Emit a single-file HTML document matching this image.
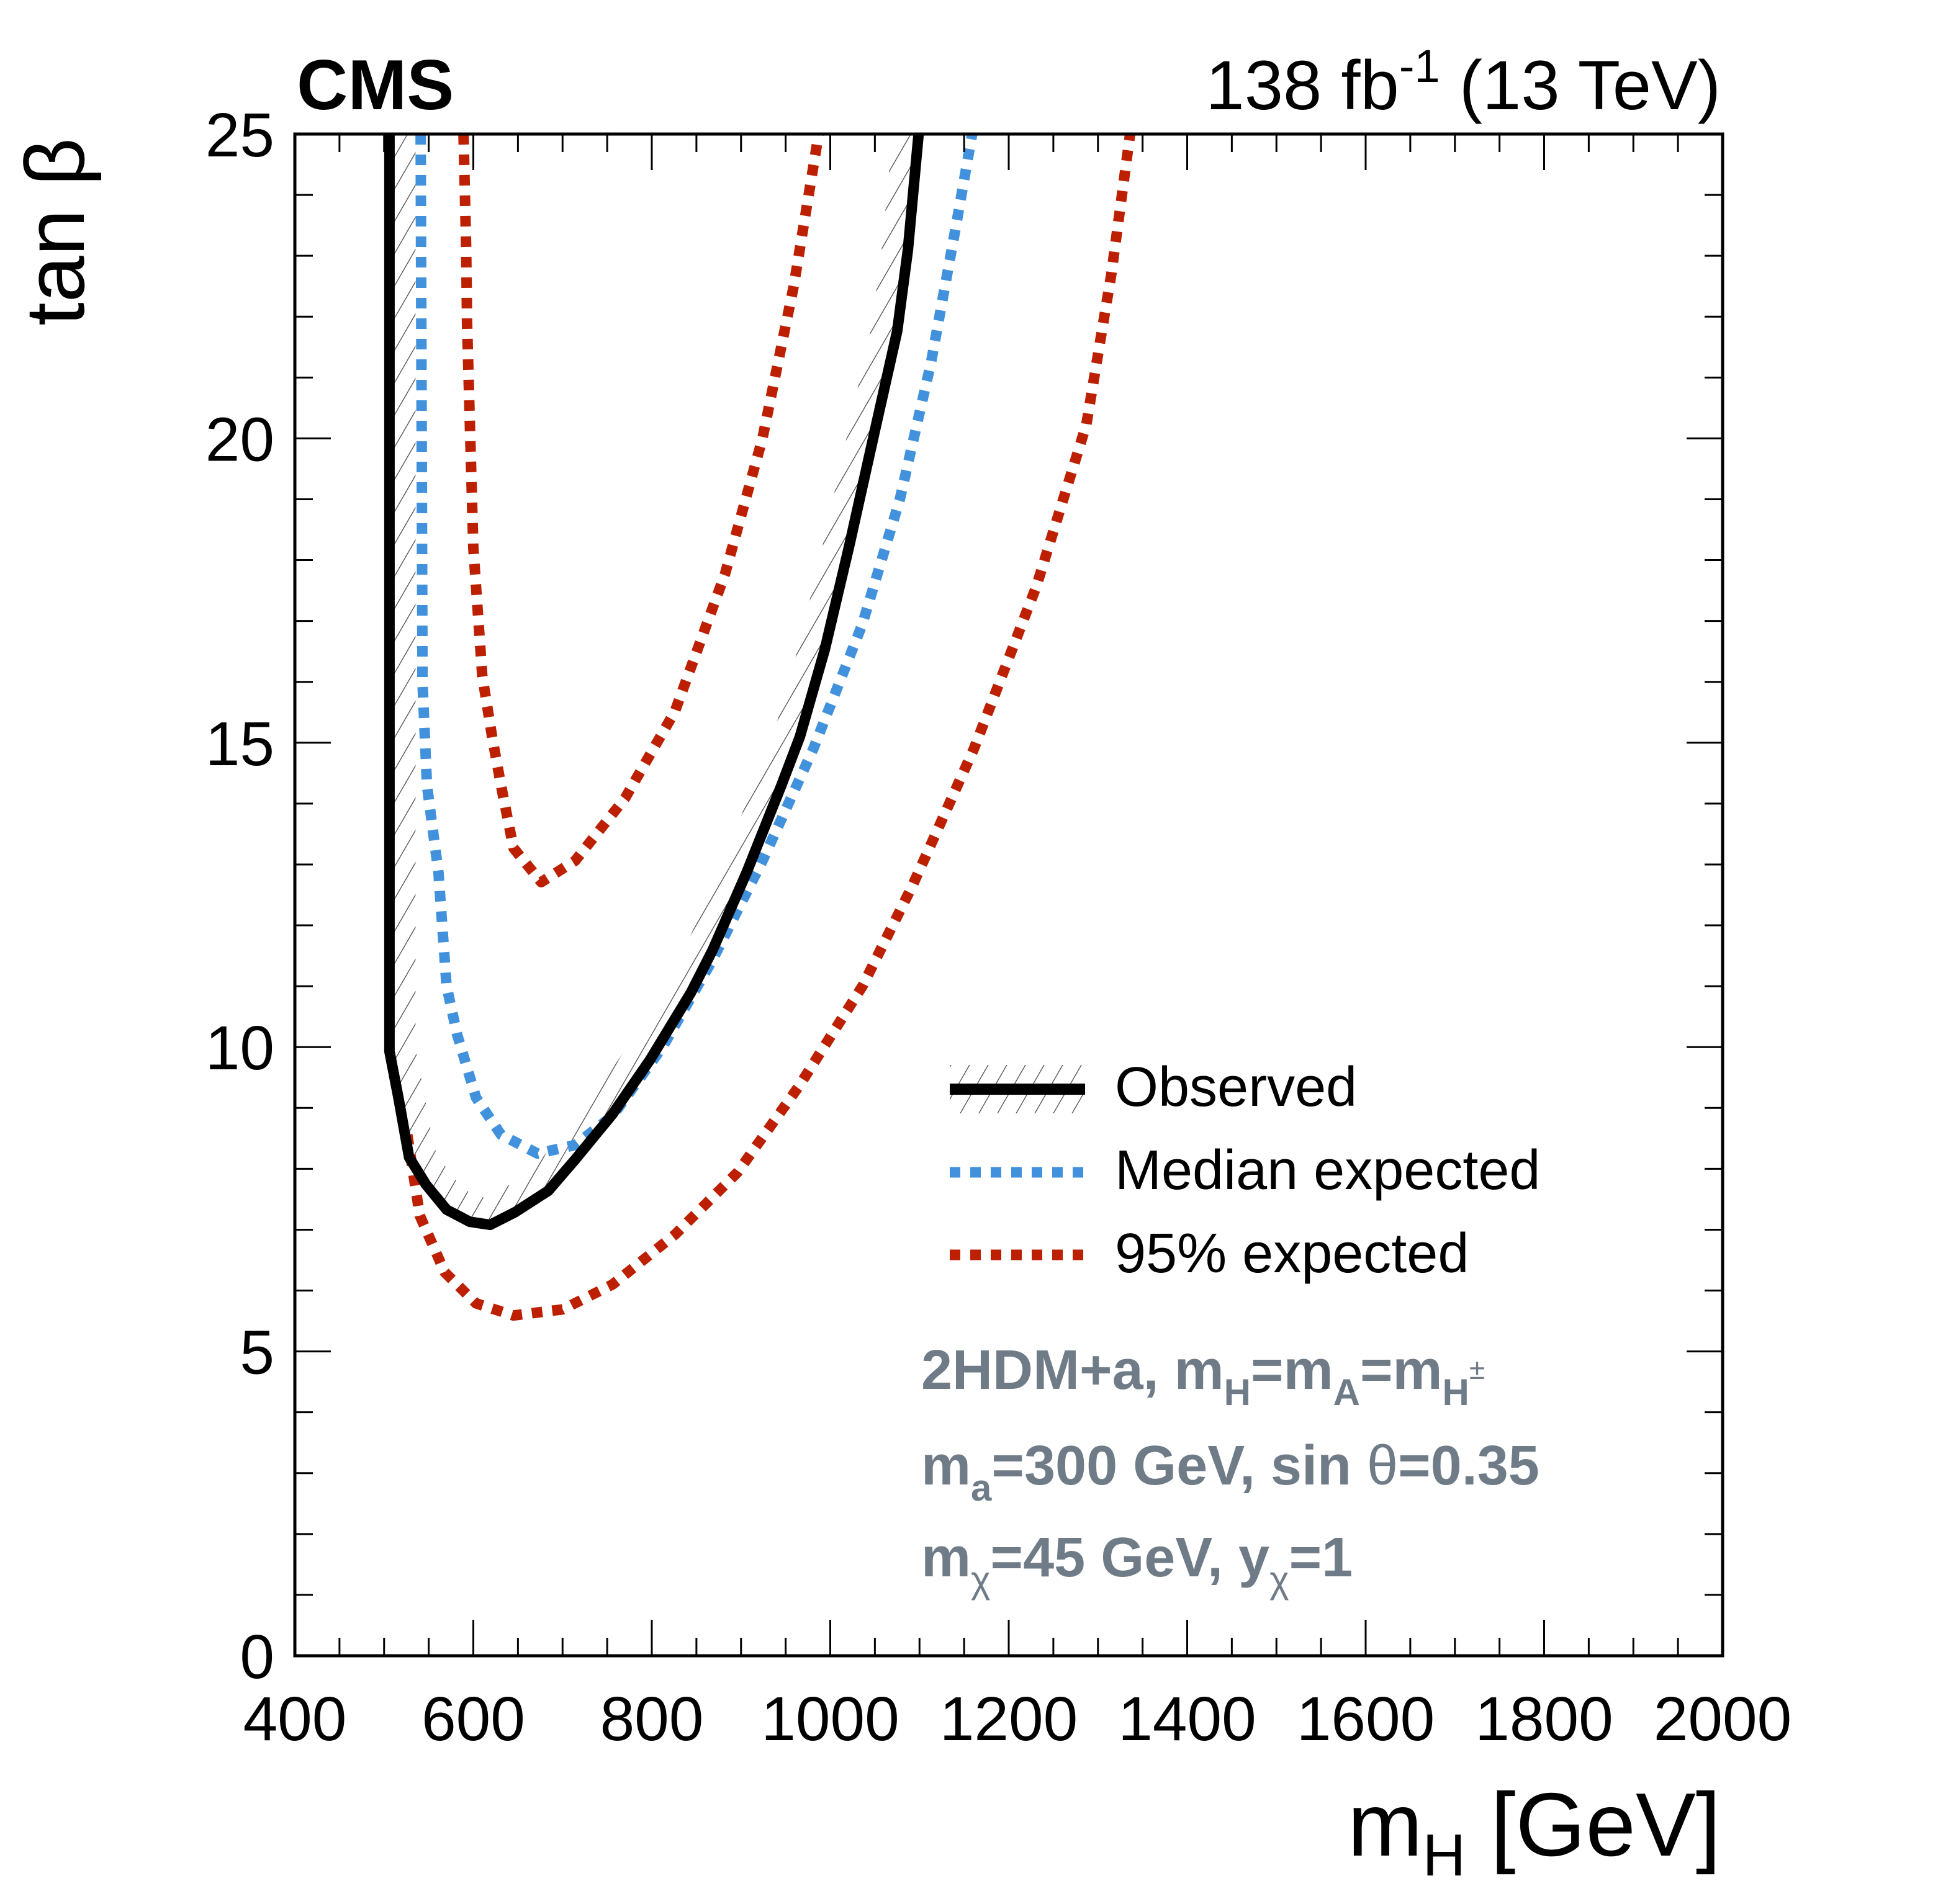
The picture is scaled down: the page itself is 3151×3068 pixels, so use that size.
<!DOCTYPE html>
<html><head><meta charset="utf-8"><style>
html,body{margin:0;padding:0;background:#fff;}
svg{display:block;font-family:"Liberation Sans",sans-serif;}
</style></head><body>
<svg id="chart" width="3151" height="3068" viewBox="0 0 3151 3068" xmlns="http://www.w3.org/2000/svg">
<defs>
<pattern id="hatch" patternUnits="userSpaceOnUse" width="26" height="26" patternTransform="rotate(30)">
<line x1="0" y1="0" x2="0" y2="26" stroke="#444" stroke-width="2.5"/>
</pattern>
<clipPath id="plotclip"><rect x="475" y="216" width="2300" height="2452"/></clipPath>
<clipPath id="obsclip"><path id="obsclippath" d=""/></clipPath>
</defs>
<g id="marks" clip-path="url(#plotclip)"></g>
<g id="axes"></g>
<text x="478" y="176" font-size="114" font-weight="bold">CMS</text>
<text x="2772" y="176" font-size="112" text-anchor="end">138 fb<tspan dy="-44" font-size="74">-1</tspan><tspan dy="44"> (13 TeV)</tspan></text>
<text transform="translate(135,222) rotate(-90)" font-size="135" text-anchor="end">tan β</text>
<text x="2772" y="2990" font-size="145" text-anchor="end">m<tspan dy="32" font-size="96">H</tspan><tspan dy="-32"> [GeV]</tspan></text>
<g>
<rect x="1530" y="1716" width="218" height="78" fill="url(#hatch)"/>
<line x1="1530" y1="1755" x2="1748" y2="1755" stroke="#000" stroke-width="18"/>
<text x="1796" y="1782" font-size="90">Observed</text>
<line x1="1530" y1="1889" x2="1748" y2="1889" stroke="#4191dc" stroke-width="17" stroke-dasharray="17 16"/>
<text x="1796" y="1916" font-size="90">Median expected</text>
<line x1="1530" y1="2022" x2="1748" y2="2022" stroke="#bd1f01" stroke-width="17" stroke-dasharray="17 16"/>
<text x="1796" y="2050" font-size="90">95% expected</text>
</g>
<g fill="#6f7c87" font-weight="bold" font-size="90">
<text x="1484" y="2238">2HDM+a, m<tspan dy="26" font-size="60">H</tspan><tspan dy="-26">=m</tspan><tspan dy="26" font-size="60">A</tspan><tspan dy="-26">=m</tspan><tspan dy="26" font-size="60">H</tspan><tspan dy="-42" font-size="46" font-weight="normal">±</tspan></text>
<text x="1484" y="2392">m<tspan dy="26" font-size="60">a</tspan><tspan dy="-26">=300 GeV, sin  </tspan><tspan font-weight="normal">θ</tspan><tspan>=0.35</tspan></text>
<text x="1484" y="2540">m<tspan dy="26" font-size="60" font-weight="normal">χ</tspan><tspan dy="-26">=45 GeV, y</tspan><tspan dy="26" font-size="60" font-weight="normal">χ</tspan><tspan dy="-26">=1</tspan></text>
</g>
</svg>
<script>
const obsX = [506,506,516,528,547,570,596,619,647,684,714,756,798,844,868,906,945,966,994,1022,1050,1075,1087,1099];
const obsY = [25,9.93,9.17,8.19,7.74,7.33,7.13,7.08,7.29,7.64,8.15,8.9,9.79,10.9,11.59,12.86,14.29,15.1,16.54,18.28,20.13,21.76,23.1,25];
const medX = [541,543,548,561,570,582,603,631,672,714,756,812,868,924,981,1036,1078,1113,1141,1159];
const medY = [25,16.0,14.3,12.86,11.0,10.2,9.17,8.56,8.25,8.39,8.87,10.0,11.43,13.06,14.9,16.95,19.0,21.25,23.5,25];
const upX = [589,592,593,600,610,621,631,645,676,714,770,826,882,924,959,987];
const upY = [25,23.1,21.9,18.2,16.1,15.1,14.3,13.27,12.71,13.06,14.09,15.52,17.77,20.0,22.5,25];
const loX = [526,540,568,603,645,700,756,826,896,966,1036,1092,1161,1231,1287,1315,1336];
const loY = [8.56,7.23,6.3,5.79,5.59,5.69,6.1,6.92,7.94,9.38,11.0,12.65,14.9,17.57,20.23,22.7,25];
const xTicks = [400,600,800,1000,1200,1400,1600,1800,2000];
const yTicks = [0,5,10,15,20,25];

const L=475,R=2775,T=216,B=2668;
const sx = v => L + (v-400)/(2000-400)*(R-L);
const sy = v => B - v/25*(B-T);
const NS="http://www.w3.org/2000/svg";
const marks=document.getElementById('marks');
const axes=document.getElementById('axes');
function pathD(xs,ys){return xs.map((x,i)=>(i?'L':'M')+sx(x).toFixed(1)+','+sy(ys[i]).toFixed(1)).join(' ');}

const obsD=pathD(obsX,obsY);
document.getElementById('obsclippath').setAttribute('d',obsD+' Z');
const hb=document.createElementNS(NS,'path');
hb.setAttribute('d',obsD);
hb.setAttribute('fill','none');
hb.setAttribute('stroke','url(#hatch)');
hb.setAttribute('stroke-width','84');
hb.setAttribute('clip-path','url(#obsclip)');


marks.appendChild(hb);

function addLine(xs,ys,color,dash,name){
  const p=document.createElementNS(NS,'path');
  p.setAttribute('d',pathD(xs,ys));
  p.setAttribute('fill','none');
  p.setAttribute('stroke',color);
  p.setAttribute('stroke-width','17');
  p.setAttribute('stroke-linejoin','round');
  if(dash)p.setAttribute('stroke-dasharray',dash);
  
  
  marks.appendChild(p);
}
addLine(upX,upY,'#bd1f01','17 16','expected-95-upper');
addLine(loX,loY,'#bd1f01','17 16','expected-95-lower');
addLine(medX,medY,'#4191dc','17 16','median-expected-line');
addLine(obsX,obsY,'#000',null,'observed-line');

function ln(x1,y1,x2,y2,w,name){
  const l=document.createElementNS(NS,'line');
  l.setAttribute('x1',x1);l.setAttribute('y1',y1);l.setAttribute('x2',x2);l.setAttribute('y2',y2);
  l.setAttribute('stroke','#000');l.setAttribute('stroke-width',w);
  
  
  axes.appendChild(l);
}
const frame=document.createElementNS(NS,'rect');
frame.setAttribute('x',L);frame.setAttribute('y',T);frame.setAttribute('width',R-L);frame.setAttribute('height',B-T);
frame.setAttribute('fill','none');frame.setAttribute('stroke','#000');frame.setAttribute('stroke-width','5');


axes.appendChild(frame);
for(let v=400;v<=2000;v+=50){
  const major=(v%200===0);const len=major?58:29;const x=sx(v);
  ln(x,B,x,B-len,3,'x-tick');ln(x,T,x,T+len,3,'x-tick-top');
}
for(let v=0;v<=25;v+=1){
  const major=(v%5===0);const len=major?58:29;const y=sy(v);
  ln(L,y,L+len,y,3,'y-tick');ln(R,y,R-len,y,3,'y-tick-right');
}
xTicks.forEach(v=>{
  const t=document.createElementNS(NS,'text');
  t.setAttribute('x',sx(v));t.setAttribute('y',2804);t.setAttribute('font-size','100');t.setAttribute('text-anchor','middle');
  t.textContent=v;
  
  
  axes.appendChild(t);
});
yTicks.forEach(v=>{
  const t=document.createElementNS(NS,'text');
  t.setAttribute('x',442);t.setAttribute('y',sy(v)+36);t.setAttribute('font-size','100');t.setAttribute('text-anchor','end');
  t.textContent=v;
  
  
  axes.appendChild(t);
});
</script>
</body></html>
